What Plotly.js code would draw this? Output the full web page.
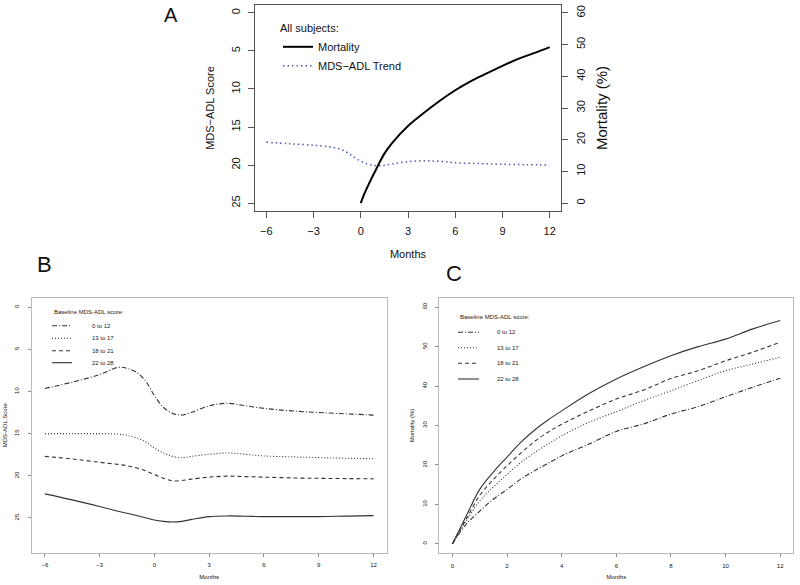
<!DOCTYPE html>
<html>
<head>
<meta charset="utf-8">
<script src="https://cdn.plot.ly/plotly-3.0.1.min.js"></script>
<style>html,body{margin:0;padding:0;background:#fff;}#chart{width:800px;height:585px;}</style>
</head>
<body>
<div id="chart"></div>
<script>
// ---------- Panel A: all subjects ----------
const monthsTrendA = [-6,-4.5,-3,-2,-1.5,-1,-0.5,0,0.5,1,1.5,2,3,4,5,6,7.5,9,10.5,12];
const trendA = [17.0,17.2,17.4,17.6,17.8,18.2,18.85,19.5,19.9,20.1,20.05,19.85,19.55,19.45,19.5,19.7,19.8,19.9,19.95,20.0];
const monthsMortA = [0,0.25,0.5,1,1.5,2,3,4,5,6,7,8,9,10,11,12];
const mortA = [0,3.2,5.9,10.9,15.6,19.0,24.3,28.4,32.2,35.6,38.5,40.9,43.3,45.5,47.3,49.2];

// ---------- Panel B: MDS-ADL score by baseline group ----------
const monthsB = [-6,-4.5,-3,-2,-1.5,-1,-0.5,0,0.5,1,1.5,2,3,4,5,6,7.5,9,10.5,12];
const scoreB_0_12  = [9.64,8.9,8.0,7.15,7.25,7.7,8.7,10.5,11.9,12.6,12.8,12.5,11.7,11.4,11.7,12.0,12.3,12.5,12.65,12.8];
const scoreB_13_17 = [15.0,15.0,15.0,15.05,15.2,15.5,15.95,16.7,17.3,17.7,17.86,17.7,17.45,17.3,17.45,17.65,17.75,17.85,17.92,17.98];
const scoreB_18_21 = [17.7,18.0,18.4,18.65,18.8,19.05,19.4,19.84,20.3,20.6,20.55,20.4,20.16,20.04,20.1,20.16,20.25,20.3,20.33,20.36];
const scoreB_22_28 = [22.14,22.86,23.65,24.2,24.44,24.7,24.97,25.24,25.4,25.48,25.4,25.2,24.84,24.76,24.8,24.84,24.84,24.84,24.78,24.72];

// ---------- Panel C: mortality by baseline group ----------
const monthsC = [0,0.5,1,1.5,2,2.5,3,3.5,4,5,6,7,8,9,10,11,12];
const mortC_0_12  = [0,4.9,8.3,11.3,13.8,16.4,18.5,20.4,22.3,25.3,28.5,30.4,32.9,34.8,37.3,39.7,42.0];
const mortC_13_17 = [0,5.7,10.9,14.4,17.6,20.6,23.1,25.3,27.4,30.8,33.5,36.3,38.8,41.4,43.9,45.6,47.3];
const mortC_18_21 = [0,6.2,12.3,16.3,19.8,23.0,25.9,28.3,30.3,33.7,36.7,39.0,41.9,43.9,46.4,48.6,51.1];
const mortC_22_28 = [0,7.0,13.8,18.2,22.0,25.7,28.8,31.4,33.7,38.1,41.8,44.9,47.7,50.0,51.9,54.5,56.6];

const groupNames = ["0 to 12","13 to 17","18 to 21","22 to 28"];
const groupDash = ["5px,2px,1px,2px","1px,2px","4px,3px","solid"];
const ticksA_x = [-6,-3,0,3,6,9,12];
const ticksScore = [0,5,10,15,20,25];
const ticksMort = [0,10,20,30,40,50,60];
const ticksC_x = [0,2,4,6,8,10,12];
const legendTitleBC = "Baseline MDS-ADL score:";

const FONT = "Liberation Sans, Arial, sans-serif";
const W = 800, H = 585;
const px = v => v / W;
const py = v => 1 - v / H;

const traces = [];
traces.push({x: monthsMortA, y: mortA, xaxis:'x', yaxis:'y2', mode:'lines', name:'Mortality',
  line:{color:'#000', width:2, shape:'spline'}, legend:'legend'});
traces.push({x: monthsTrendA, y: trendA, xaxis:'x', yaxis:'y', mode:'lines', name:'MDS\u2212ADL Trend',
  line:{color:'#4a5cb8', width:1.5, dash:'1.5px,3px', shape:'spline'}, legend:'legend'});

const bSeries = [scoreB_0_12, scoreB_13_17, scoreB_18_21, scoreB_22_28];
bSeries.forEach((s,i) => traces.push({x: monthsB, y: s, xaxis:'x2', yaxis:'y3', mode:'lines',
  name: groupNames[i], showlegend:false, line:{color:'#333', width:1.1, dash:groupDash[i], shape:'spline'}}));
const cSeries = [mortC_0_12, mortC_13_17, mortC_18_21, mortC_22_28];
cSeries.forEach((s,i) => traces.push({x: monthsC, y: s, xaxis:'x3', yaxis:'y4', mode:'lines',
  name: groupNames[i], showlegend:false, line:{color:'#333', width:1.1, dash:groupDash[i], shape:'spline'}}));

// legend keys for panels B and C (small R-style legends)
const shapes = [];
const annotations = [];
function smallLegend(titleX, titleY, keyX0, keyX1, textX, rowYs) {
  annotations.push({text:legendTitleBC, x:px(titleX), y:py(titleY), xref:'paper', yref:'paper', showarrow:false,
    xanchor:'left', yanchor:'middle', font:{size:6, family:FONT, color:'#222'}});
  groupNames.forEach((g,i) => {
    shapes.push({type:'line', xref:'paper', yref:'paper', x0:px(keyX0), x1:px(keyX1), y0:py(rowYs[i]), y1:py(rowYs[i]),
      line:{color:'#333', width:1.1, dash:groupDash[i]}});
    annotations.push({text:g, x:px(textX), y:py(rowYs[i]), xref:'paper', yref:'paper', showarrow:false,
      xanchor:'left', yanchor:'middle', font:{size:6, family:FONT, color:'#222'}});
  });
}
smallLegend(52, 312, 52, 72, 90, [325.7, 338.3, 350.7, 362.7]);
smallLegend(458, 317, 458, 479, 495, [332.3, 347.7, 363.3, 379]);

annotations.push(
  {text:'A', x:px(171), y:py(15), xref:'paper', yref:'paper', showarrow:false, font:{size:20, family:FONT}, xanchor:'center', yanchor:'middle'},
  {text:'B', x:px(44), y:py(265), xref:'paper', yref:'paper', showarrow:false, font:{size:22, family:FONT}, xanchor:'center', yanchor:'middle'},
  {text:'C', x:px(454), y:py(273), xref:'paper', yref:'paper', showarrow:false, font:{size:22, family:FONT}, xanchor:'center', yanchor:'middle'}
);

const axBase = {showgrid:false, zeroline:false, showline:true, ticks:'outside', fixedrange:true};

const layout = {
  width: W, height: H,
  margin:{l:0,r:0,t:0,b:0},
  paper_bgcolor:'#fff', plot_bgcolor:'#fff',
  font:{family:FONT, color:'#111'},
  xaxis: Object.assign({}, axBase, {domain:[px(255),px(561)], anchor:'y', range:[-6.72,12.72], tickvals:ticksA_x,
    mirror:true, linecolor:'#555', linewidth:1, ticklen:6, tickcolor:'#555', tickfont:{size:11}, ticklabelstandoff:4,
    title:{text:'Months', font:{size:11}, standoff:14}}),
  yaxis: Object.assign({}, axBase, {domain:[py(211),py(5)], anchor:'x', range:[26.04,-1.04], tickvals:ticksScore,
    mirror:true, linecolor:'#555', linewidth:1, ticklen:6, tickcolor:'#555', tickangle:-90, tickfont:{size:11}, ticklabelstandoff:4,
    title:{text:'MDS\u2212ADL Score', font:{size:11}, standoff:12}}),
  yaxis2: Object.assign({}, axBase, {overlaying:'y', side:'right', anchor:'x', range:[-2.5,62.5], tickvals:ticksMort,
    showline:false, ticklen:6, tickcolor:'#555', tickangle:-90, tickfont:{size:11}, ticklabelstandoff:4,
    title:{text:'Mortality (%)', font:{size:15}, standoff:10}}),
  xaxis2: Object.assign({}, axBase, {domain:[px(31.7),px(386.7)], anchor:'y3', range:[-6.72,12.72], tickvals:ticksA_x,
    mirror:true, linecolor:'#bbb', linewidth:1, ticklen:3, tickcolor:'#888', tickfont:{size:6}, ticklabelstandoff:3,
    title:{text:'Months', font:{size:6}, standoff:7}}),
  yaxis3: Object.assign({}, axBase, {domain:[py(552.7),py(297.7)], anchor:'x2', range:[29.12,-1.12], tickvals:ticksScore,
    mirror:true, linecolor:'#bbb', linewidth:1, ticklen:3, tickcolor:'#888', tickangle:-90, tickfont:{size:6}, ticklabelstandoff:6,
    title:{text:'MDS-ADL Score', font:{size:6}, standoff:6}}),
  xaxis3: Object.assign({}, axBase, {domain:[px(439.3),px(793.3)], anchor:'y4', range:[-0.48,12.48], tickvals:ticksC_x,
    mirror:true, linecolor:'#bbb', linewidth:1, ticklen:3, tickcolor:'#888', tickfont:{size:6}, ticklabelstandoff:3,
    title:{text:'Months', font:{size:6}, standoff:7}}),
  yaxis4: Object.assign({}, axBase, {domain:[py(553.3),py(297.7)], anchor:'x3', range:[-2.4,62.4], tickvals:ticksMort,
    mirror:true, linecolor:'#bbb', linewidth:1, ticklen:3, tickcolor:'#888', tickangle:-90, tickfont:{size:6}, ticklabelstandoff:6,
    title:{text:'Mortality (%)', font:{size:6}, standoff:6}}),
  showlegend:true,
  legend:{x:px(278), y:py(18), xanchor:'left', yanchor:'top', bgcolor:'rgba(0,0,0,0)', font:{size:11},
    title:{text:'All subjects:', font:{size:11}}, tracegroupgap:0},
  shapes: shapes,
  annotations: annotations
};

Plotly.newPlot('chart', traces, layout, {staticPlot:true, displayModeBar:false});
</script>
</body>
</html>
